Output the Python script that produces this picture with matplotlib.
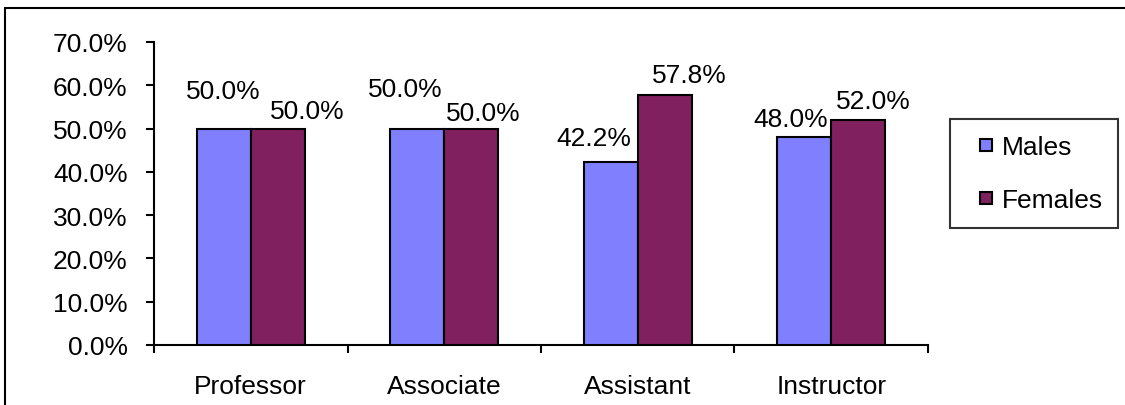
import matplotlib
matplotlib.use("Agg")
import matplotlib.pyplot as plt
from matplotlib.patches import Rectangle
from matplotlib.lines import Line2D
import numpy as np

categories = ["Professor", "Associate", "Assistant", "Instructor"]
males = [50.0, 50.0, 42.2, 48.0]
females = [50.0, 50.0, 57.8, 52.0]
series_names = ["Males", "Females"]
yticks = [0, 10, 20, 30, 40, 50, 60, 70]
colors = ['#8080FF', '#80205F']

# label centre offsets (pixels) to mimic the reference's label placement
male_offsets = [(0, 38), (-12, 40), (-17, 24), (-13, 18)]
female_offsets = [(29, 18), (12, 16), (24, 20), (15, 19)]

plt.rcParams['font.family'] = ['Liberation Sans', 'DejaVu Sans']
FS = 19

fig = plt.figure(figsize=(11.25, 4.06), dpi=100)
fig.patches.append(Rectangle((5/1125, -0.2), 1.2, 1.2 - 9/406, transform=fig.transFigure,
                             fill=False, edgecolor='black', linewidth=1.5))
ax = fig.add_axes([154/1125, 1-346/406, (928-154)/1125, (346-43)/406])

x = np.arange(len(categories)) + 0.5
w = 0.28
ax.bar(x - w/2, males, w, color=colors[0], edgecolor='black', linewidth=1.5, zorder=3)
ax.bar(x + w/2, females, w, color=colors[1], edgecolor='black', linewidth=1.5, zorder=3)

for i in range(len(categories)):
    ax.annotate(f"{males[i]:.1f}%", (x[i] - w/2, males[i]), xytext=male_offsets[i],
                textcoords='offset pixels', ha='center', va='center', fontsize=FS)
    ax.annotate(f"{females[i]:.1f}%", (x[i] + w/2, females[i]), xytext=female_offsets[i],
                textcoords='offset pixels', ha='center', va='center', fontsize=FS)

ax.set_xlim(0, len(categories))
ax.set_ylim(0, 70)
ax.set_yticks(yticks)
ax.set_yticklabels([f"{v:.1f}%" for v in yticks], fontsize=FS)
ax.set_xticks(np.arange(len(categories) + 1))
ax.set_xticklabels([])
ax.set_xticks(x, minor=True)
ax.set_xticklabels(categories, minor=True, fontsize=FS)
ax.tick_params(axis='x', which='minor', length=0, pad=21)
ax.tick_params(axis='x', which='major', length=6, width=1.5, direction='out')
ax.tick_params(axis='y', length=6, width=1.5, direction='out', pad=13)
for s in ['top', 'right']:
    ax.spines[s].set_visible(False)
for s in ['left', 'bottom']:
    ax.spines[s].set_linewidth(1.5)

handles = [Line2D([], [], linestyle='none', marker='s', markersize=8.5, markerfacecolor=c,
                  markeredgecolor='black', markeredgewidth=1.5) for c in colors]
leg = ax.legend(handles, series_names, loc='upper left', bbox_to_anchor=(950/1125, 1-120/406),
                bbox_transform=fig.transFigure, borderaxespad=0, fontsize=FS, frameon=True,
                fancybox=False, edgecolor='black', handlelength=1.5,
                handletextpad=-0.15, labelspacing=1.1, borderpad=0.6)
leg.get_frame().set_linewidth(1.5)

fig.savefig("out.png", dpi=100)
